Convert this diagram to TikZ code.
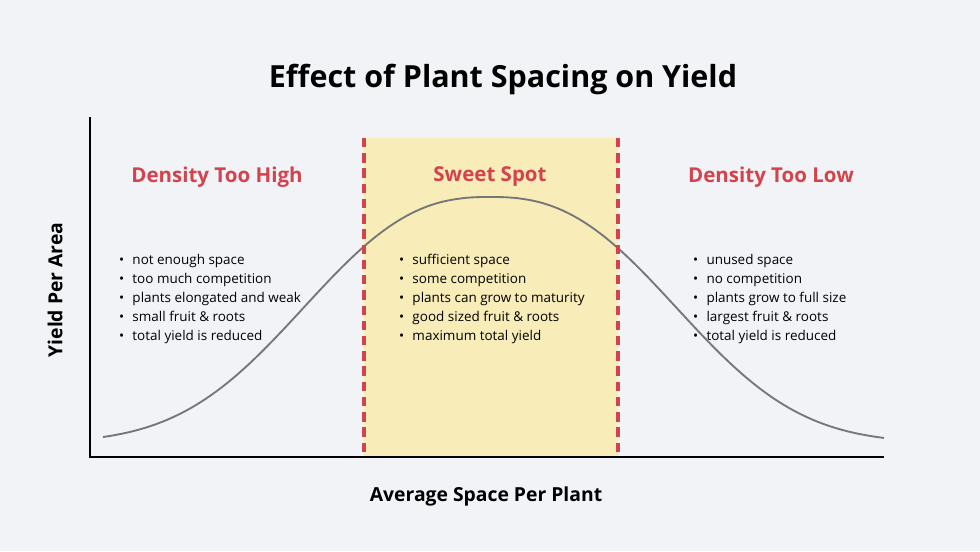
\documentclass[tikz,border=0pt]{standalone}
\usepackage{fontspec}
\setmainfont{Open Sans}
\definecolor{bgc}{HTML}{F2F3F7}
\definecolor{spotc}{HTML}{F8ECB8}
\definecolor{redc}{HTML}{D4434C}
\definecolor{curvec}{HTML}{777777}
\tikzset{
    heading/.style={text=redc,font=\fontsize{17.5}{20}\selectfont\bfseries},
    bullets/.style={anchor=north west,align=left,inner sep=0pt,font=\fontsize{11.5}{16.2}\selectfont},
    axislabel/.style={font=\fontsize{16.5}{18}\selectfont\bfseries},
    zoneline/.style={redc,line width=2.6pt,dash pattern=on 8pt off 5pt}
}
\newcommand{\bl}{\textbullet\hspace{7pt}}
\begin{document}
\begin{tikzpicture}[x=0.03cm,y=-0.03cm]
    \fill[bgc] (0,0) rectangle (980,551);
    \useasboundingbox (0,0) rectangle (980,551);

    % sweet spot band
    \fill[spotc] (364,138) rectangle (618,457);

    % curve
    \draw[curvec,line width=1.6pt] plot[domain=103:884,samples=150,smooth]
        (\x,{443-246*exp(-pow(abs(\x-490)/229,2.5))});

    % zone borders
    \draw[zoneline] (364,138) -- (364,457);
    \draw[zoneline] (618,138) -- (618,457);

    % axes
    \draw[black,line width=1.4pt] (90,117) -- (90,457) -- (884,457);

    % title and axis labels
    \node[font=\fontsize{26}{30}\selectfont\bfseries] (title) at (503,80) {Effect of Plant Spacing on Yield};
    \node[axislabel,rotate=90] (ylab) at (55,290) {Yield Per Area};
    \node[axislabel] (xlab) at (486,496) {Average Space Per Plant};

    % zone headings
    \node[heading] (high) at (217,177) {Density Too High};
    \node[heading] (sweet) at (490,177) {Sweet Spot};
    \node[heading] (low) at (771,177) {Density Too Low};

    % zone notes
    \node[bullets] (highnotes) at (119,254) {\bl not enough space\\ \bl too much competition\\ \bl plants elongated and weak\\ \bl small fruit \& roots\\ \bl total yield is reduced};
    \node[bullets] (sweetnotes) at (399,254) {\bl sufficient space\\ \bl some competition\\ \bl plants can grow to maturity\\ \bl good sized fruit \& roots\\ \bl maximum total yield};
    \node[bullets] (lownotes) at (693,254) {\bl unused space\\ \bl no competition\\ \bl plants grow to full size\\ \bl largest fruit \& roots\\ \bl total yield is reduced};
\end{tikzpicture}
\end{document}
